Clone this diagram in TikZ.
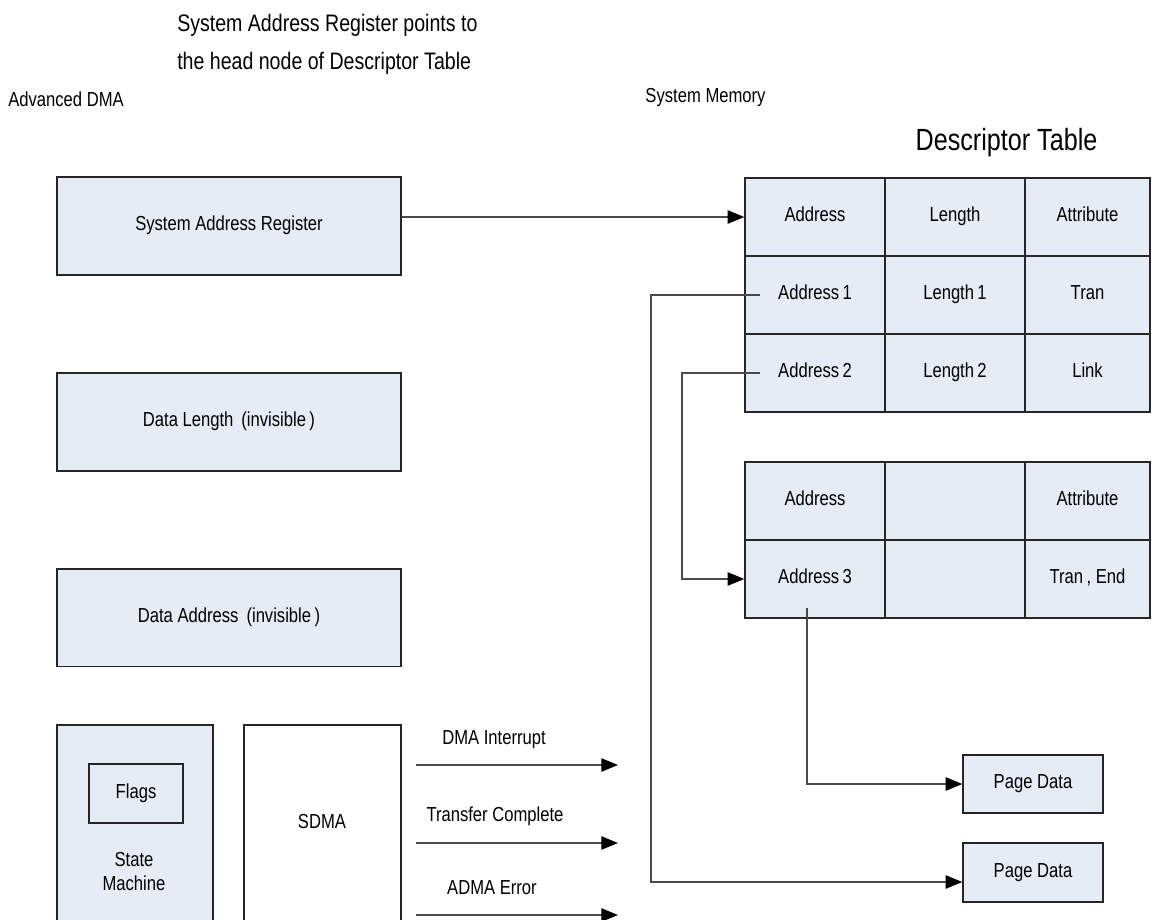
\documentclass[tikz,border=0pt]{standalone}
\usepackage{fontspec}
\setmainfont{Liberation Sans}[FakeStretch=0.82]
\usetikzlibrary{arrows.meta}
\definecolor{boxfill}{HTML}{E6ECF6}
\definecolor{edge}{HTML}{262626}
\definecolor{wire}{HTML}{4A4A4A}
\begin{document}
\begin{tikzpicture}[x=0.75pt,y=-0.75pt,
  sm/.style={font=\fontsize{15.2}{18}\selectfont},
  lbl/.style={sm, inner sep=0, text height=0.716em, text depth=0pt},
  blk/.style={draw=edge, line width=1pt, fill=boxfill, inner sep=0, sm, text height=0.716em, text depth=0pt},
  cell/.style={blk, minimum width=105pt, minimum height=58.5pt},
  lastcell/.style={blk, minimum width=93.75pt, minimum height=58.5pt},
  conn/.style={draw=wire, line width=1pt},
  arr/.style={conn, -{Triangle[length=12.5pt,width=10pt,color=black]}}]
\useasboundingbox (0,0) rectangle (1156,920);

% top texts
\node[font=\fontsize{17.9}{22}\selectfont, inner sep=0, anchor=base west] (note1) at (177,32) {System Address Register points to};
\node[font=\fontsize{17.9}{22}\selectfont, inner sep=0, anchor=base west] (note2) at (177,70) {the head node of Descriptor Table};
\node[lbl, anchor=west] (adma) at (8,102) {Advanced DMA};
\node[lbl] (sysmem) at (705.5,98) {System Memory};
\node[font=\fontsize{23}{28}\selectfont, inner sep=0, text height=0.716em, text depth=0pt] (dtitle) at (1006.5,146) {Descriptor Table};

% left blocks
\node[blk, minimum width=258pt, minimum height=73.5pt] (sar) at (229,226) {System Address Register};
\node[blk, minimum width=258pt, minimum height=73.5pt] (dlen) at (229,422) {Data Length\ \,(invisible\,)};
\node[blk, minimum width=258pt, minimum height=73pt] (daddr) at (229,617.5) {Data Address\ \,(invisible\,)};
\node[blk, minimum width=117pt, minimum height=153.75pt] (smbox) at (135,827.5) {};
\node[blk, minimum width=70.5pt, minimum height=44.25pt] (flags) at (136,793.5) {Flags};
\node[sm, align=center, inner sep=0] (smtext) at (134,872) {State\\Machine};
\node[blk, fill=white, minimum width=117.75pt, minimum height=153.75pt] (sdma) at (322.5,827.5) {};
\node[lbl] (sdmatext) at (322,824) {SDMA};

% output signals
\coordinate (o1s) at (416,765); \coordinate (o1e) at (618,765);
\coordinate (o2s) at (416,843); \coordinate (o2e) at (618,843);
\coordinate (o3s) at (416,915); \coordinate (o3e) at (618,915);
\draw[arr] (o1s) -- (o1e);
\draw[arr] (o2s) -- (o2e);
\draw[arr] (o3s) -- (o3e);
\node[lbl] (l1) at (494,740) {DMA Interrupt};
\node[lbl] (l2) at (495,816.5) {Transfer Complete};
\node[lbl] (l3) at (492,889.5) {ADMA Error};

% descriptor table 1
\node[cell] (t11) at (815,217) {Address};
\node[cell] (t12) at (955,217) {Length};
\node[lastcell] (t13) at (1087.5,217) {Attribute};
\node[cell] (t21) at (815,295) {Address\,1};
\node[cell] (t22) at (955,295) {Length\,1};
\node[lastcell] (t23) at (1087.5,295) {Tran};
\node[cell] (t31) at (815,373) {Address\,2};
\node[cell] (t32) at (955,373) {Length\,2};
\node[lastcell] (t33) at (1087.5,373) {Link};

% descriptor table 2
\node[cell] (u11) at (815,501) {Address};
\node[cell] (u12) at (955,501) {};
\node[lastcell] (u13) at (1087.5,501) {Attribute};
\node[cell] (u21) at (815,579) {Address\,3};
\node[cell] (u22) at (955,579) {};
\node[lastcell] (u23) at (1087.5,579) {Tran\,, End};

% page data
\node[blk, minimum width=105pt, minimum height=43.5pt] (pd1) at (1033,784) {Page Data};
\node[blk, minimum width=105pt, minimum height=44.25pt] (pd2) at (1033,872.5) {Page Data};

% connectors
\draw[arr] (sar.east |- t11.west) -- (t11.west);
\coordinate (a1s) at (760,295);
\coordinate (a2s) at (760,373);
\coordinate (a3s) at (807,608);
\coordinate (pd2in) at (pd2.west |- 0,882);
\draw[arr] (a1s) -| (651,882) -- (pd2in);
\draw[arr] (a2s) -| (682,579) -- (u21.west);
\draw[arr] (a3s) |- (pd1.west);
\end{tikzpicture}
\end{document}
